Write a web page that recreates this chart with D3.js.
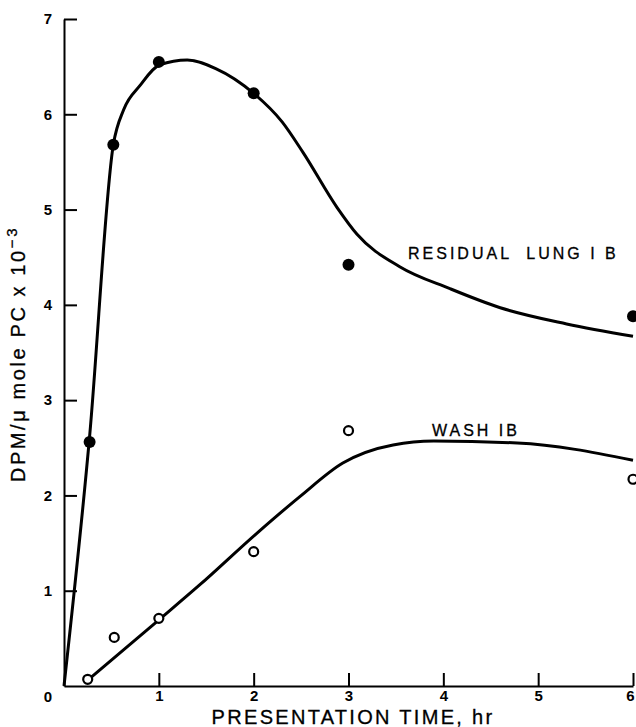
<!DOCTYPE html>
<html>
<head>
<meta charset="utf-8">
<script src="https://cdn.jsdelivr.net/npm/d3@7"></script>
<style>
  body { margin: 0; background: #fff; }
  svg { display: block; font-family: "Liberation Sans", Arial, sans-serif; }
  .axis path, .axis line { stroke: #000; stroke-width: 2; }
  .axis text { font-size: 15px; font-weight: bold; fill: #000; }
  .curve { fill: none; stroke: #000; stroke-width: 3; }
  .label { fill: #000; stroke: #000; stroke-width: 0.3; }
</style>
</head>
<body>
<svg width="636" height="727"></svg>
<script>
// measured points
let timeHr = [0.27, 0.52, 1, 2, 3, 6];
let residualLung = [2.56, 5.68, 6.55, 6.22, 4.42, 3.88];
let washTime = [0.25, 0.53, 1, 2, 3, 6];
let wash = [0.07, 0.51, 0.71, 1.41, 2.68, 2.17];

// hand-drawn fitted curves
let residualCurveX = [0, 0.27, 0.52, 0.63, 0.8, 1.01, 1.3, 1.6, 2, 2.3, 2.52, 2.88, 3.09, 3.54, 4.07, 4.6, 5.3, 6];
let residualCurveY = [0, 2.62, 5.68, 6.05, 6.3, 6.52, 6.57, 6.48, 6.22, 5.92, 5.6, 5.02, 4.74, 4.4, 4.17, 3.97, 3.8, 3.67];
let washCurveX = [0.25, 1.02, 1.43, 2.03, 2.49, 2.94, 3.47, 3.9, 4.78, 6];
let washCurveY = [0.06, 0.71, 1.06, 1.6, 1.99, 2.34, 2.53, 2.57, 2.55, 2.37];

let xTicks = [1, 2, 3, 4, 5, 6];
let yTicks = [0, 1, 2, 3, 4, 5, 6, 7];

let svg = d3.select("svg");

let x = d3.scaleLinear().domain([0, 6]).range([64, 633]);
let y = d3.scaleLinear().domain([0, 7]).range([686, 19]);

// axes, ticks point inward
let yAxis = svg.append("g")
    .attr("class", "axis")
    .attr("transform", "translate(64,0)")
    .call(d3.axisLeft(y).tickValues(yTicks).tickFormat(d3.format("d"))
        .tickSizeInner(-13).tickSizeOuter(0).tickPadding(12));
yAxis.selectAll(".tick").filter(d => d === 0).select("line").remove();
yAxis.selectAll(".tick").filter(d => d === 0).select("text").attr("dy", "1.0em");

let xAxis = svg.append("g")
    .attr("class", "axis")
    .attr("transform", "translate(0,686)")
    .call(d3.axisBottom(x).tickValues(xTicks).tickFormat(d3.format("d"))
        .tickSizeInner(-13).tickSizeOuter(0).tickPadding(4));
xAxis.selectAll(".tick").filter(d => d === 6).select("text").attr("dx", -3);

// fitted curves
let line = d3.line()
    .x(d => x(d[0]))
    .y(d => y(d[1]))
    .curve(d3.curveMonotoneX);

svg.append("path")
    .attr("class", "curve")
    .attr("d", line(d3.zip(residualCurveX, residualCurveY)));

svg.append("path")
    .attr("class", "curve")
    .attr("d", line(d3.zip(washCurveX, washCurveY)));

// points
svg.selectAll(".filled")
    .data(d3.zip(timeHr, residualLung))
    .enter().append("circle")
    .attr("class", "filled")
    .attr("cx", d => x(d[0]))
    .attr("cy", d => y(d[1]))
    .attr("r", 6)
    .attr("fill", "#000");

svg.selectAll(".open")
    .data(d3.zip(washTime, wash))
    .enter().append("circle")
    .attr("class", "open")
    .attr("cx", d => x(d[0]))
    .attr("cy", d => y(d[1]))
    .attr("r", 4.5)
    .attr("fill", "#fff")
    .attr("stroke", "#000")
    .attr("stroke-width", 2.2);

// series labels
svg.append("text")
    .attr("class", "label")
    .attr("x", 408).attr("y", 259)
    .style("font-size", "16px")
    .style("letter-spacing", "3px")
    .style("white-space", "pre")
    .text("RESIDUAL  LUNG I B");

svg.append("text")
    .attr("class", "label")
    .attr("x", 432).attr("y", 436)
    .style("font-size", "16px")
    .style("letter-spacing", "3px")
    .style("white-space", "pre")
    .text("WASH IB");

// axis titles
svg.append("text")
    .attr("class", "label")
    .attr("x", 353).attr("y", 724)
    .attr("text-anchor", "middle")
    .style("font-size", "20px")
    .style("letter-spacing", "2.3px")
    .text("PRESENTATION TIME, hr");

let yTitle = svg.append("text")
    .attr("class", "label")
    .attr("transform", "translate(25,354) rotate(-90)")
    .attr("text-anchor", "middle")
    .style("font-size", "20px")
    .style("letter-spacing", "2.6px");
yTitle.append("tspan").text("DPM/\u03bc mole PC x 10");
yTitle.append("tspan").attr("dy", -8).style("font-size", "15px").text("\u22123");
</script>
</body>
</html>
